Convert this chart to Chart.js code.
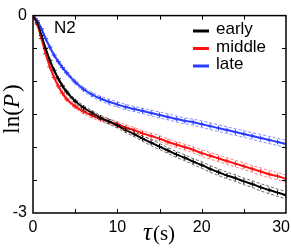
<!DOCTYPE html>
<html><head><meta charset="utf-8">
<script src="https://cdn.jsdelivr.net/npm/chart.js@4.4.1/dist/chart.umd.min.js"></script>
<style>html,body{margin:0;padding:0;background:#fff}canvas{display:block}</style>
</head><body>
<canvas id="c" width="291" height="251"></canvas>
<script>
// tau (s)
const tau = [0,0.5,1,1.5,2,2.5,3,3.5,4,5,6,7,8,9,10,11,12,13,14,15,16,17,18,19,20,21,22,23,24,25,26,27,28,29,30];
// ln(P) for each group
const early  = [0,-0.11,-0.30,-0.50,-0.68,-0.83,-0.96,-1.07,-1.16,-1.30,-1.40,-1.48,-1.55,-1.61,-1.67,-1.74,-1.80,-1.87,-1.93,-1.99,-2.05,-2.11,-2.16,-2.22,-2.27,-2.33,-2.38,-2.43,-2.47,-2.52,-2.56,-2.61,-2.65,-2.69,-2.73];
const middle = [0,-0.13,-0.35,-0.58,-0.78,-0.94,-1.07,-1.18,-1.27,-1.38,-1.46,-1.52,-1.57,-1.61,-1.65,-1.70,-1.74,-1.79,-1.83,-1.87,-1.92,-1.96,-2.00,-2.04,-2.09,-2.13,-2.17,-2.21,-2.25,-2.29,-2.33,-2.37,-2.41,-2.44,-2.48];
const late   = [0,-0.08,-0.20,-0.35,-0.48,-0.60,-0.70,-0.79,-0.87,-1.01,-1.12,-1.20,-1.26,-1.31,-1.35,-1.39,-1.42,-1.45,-1.48,-1.51,-1.54,-1.57,-1.60,-1.62,-1.65,-1.68,-1.71,-1.74,-1.77,-1.80,-1.83,-1.86,-1.89,-1.92,-1.95];
// confidence band half-width
const band   = [0,0.01,0.01,0.015,0.02,0.02,0.025,0.025,0.03,0.03,0.035,0.035,0.035,0.04,0.04,0.04,0.04,0.04,0.045,0.045,0.045,0.045,0.045,0.045,0.05,0.05,0.05,0.05,0.05,0.05,0.05,0.055,0.055,0.055,0.055];
const seriesNames = ['early','middle','late'];
const seriesColors = ['#000000','#ff1010','#2a3cff'];
const seriesBandColors = ['rgba(0,0,0,0.75)','rgba(255,40,40,0.75)','rgba(50,70,255,0.75)'];
const xTickLabels = ['0','10','20','30'];
const yTickLabels = ['0','-3'];
const panelLabel = 'N2';
const xTitle = ['\u03C4','(s)'];
const yTitle = 'ln(P)';

const seriesValues = [early, middle, late];
const datasets = [];
seriesValues.forEach((vals, i) => {
  [-1, 1].forEach(sgn => {
    datasets.push({
      label: seriesNames[i] + (sgn < 0 ? ' lower' : ' upper'),
      data: tau.map((t, k) => ({x: t, y: vals[k] + sgn * band[k]})),
      borderColor: seriesBandColors[i], borderWidth: 0.8, borderDash: [3, 2],
      pointRadius: 0, fill: false, cubicInterpolationMode: 'monotone', isBand: true
    });
  });
});
seriesValues.forEach((vals, i) => {
  datasets.push({
    label: seriesNames[i],
    data: tau.map((t, k) => ({x: t, y: vals[k]})),
    borderColor: seriesColors[i], backgroundColor: seriesColors[i], borderWidth: 2,
    pointStyle: 'cross', pointRadius: 2.5, pointBorderWidth: 1, pointBorderColor: seriesColors[i],
    fill: false, cubicInterpolationMode: 'monotone'
  });
});

const decor = {
  id: 'decor',
  afterDraw(chart) {
    const ctx = chart.ctx, a = chart.chartArea;
    const xs = chart.scales.x, ys = chart.scales.y;
    ctx.save();
    // frame
    ctx.strokeStyle = '#000'; ctx.lineWidth = 1.5;
    ctx.strokeRect(a.left, a.top, a.right - a.left, a.bottom - a.top);
    // inward ticks
    ctx.lineWidth = 1;
    ctx.beginPath();
    for (let v = 5; v < 30; v += 5) {
      const px = Math.round(xs.getPixelForValue(v)) + 0.5;
      ctx.moveTo(px, a.bottom); ctx.lineTo(px, a.bottom - 4);
      ctx.moveTo(px, a.top); ctx.lineTo(px, a.top + 4);
    }
    for (let v = -2.5; v < 0; v += 0.5) {
      const py = Math.round(ys.getPixelForValue(v)) + 0.5;
      ctx.moveTo(a.left, py); ctx.lineTo(a.left + 4, py);
      ctx.moveTo(a.right, py); ctx.lineTo(a.right - 4, py);
    }
    ctx.stroke();
    // x tick labels
    ctx.fillStyle = '#000';
    ctx.font = '16px "Liberation Sans", Arial, sans-serif';
    ctx.textBaseline = 'alphabetic'; ctx.textAlign = 'center';
    xTickLabels.forEach(l => {
      let px = xs.getPixelForValue(Number(l));
      const w = ctx.measureText(l).width;
      px = Math.min(px, chart.width - 1 - w / 2);
      ctx.fillText(l, px, 232);
    });
    // x title
    ctx.font = 'italic 25px "Liberation Serif", "DejaVu Serif", serif';
    ctx.textAlign = 'left';
    ctx.fillText(xTitle[0], 143, 240);
    const w0 = ctx.measureText(xTitle[0]).width;
    ctx.font = '21px "Liberation Serif", "DejaVu Serif", serif';
    ctx.fillText(xTitle[1], 143 + w0 + 1, 240);
    // y title
    ctx.save();
    ctx.translate(19, 109); ctx.rotate(-Math.PI / 2);
    ctx.textAlign = 'center';
    ctx.font = '23px "Liberation Serif", "DejaVu Serif", serif';
    const parts = ['ln(', 'P', ')'];
    const fonts = ['23px "Liberation Serif", serif', 'italic 23px "Liberation Serif", serif', '23px "Liberation Serif", serif'];
    let widths = parts.map((p, k) => { ctx.font = fonts[k]; return ctx.measureText(p).width; });
    let total = widths.reduce((s, v) => s + v, 0) + 2;
    let x = -total / 2;
    ctx.textAlign = 'left';
    parts.forEach((p, k) => { ctx.font = fonts[k]; ctx.fillText(p, x, 0); x += widths[k] + (k === 1 ? 2 : 0); });
    ctx.restore();
    // panel label
    ctx.font = '17px "Liberation Sans", Arial, sans-serif';
    ctx.textAlign = 'left';
    ctx.fillText(panelLabel, 54, 33);
    // legend
    const mains = chart.data.datasets.filter(d => !d.isBand);
    mains.forEach((d, i) => {
      const ly = 31 + i * 17.5;
      ctx.strokeStyle = d.borderColor; ctx.lineWidth = 3;
      ctx.beginPath(); ctx.moveTo(193, ly); ctx.lineTo(209, ly); ctx.stroke();
      ctx.fillStyle = '#000';
      ctx.font = '17px "Liberation Sans", Arial, sans-serif';
      ctx.fillText(d.label, 216, ly + 3);
    });
    ctx.restore();
  }
};

new Chart(document.getElementById('c'), {
  type: 'line',
  data: { datasets },
  options: {
    animation: false, responsive: false, maintainAspectRatio: false,
    layout: { padding: { top: 13, right: 3, left: 0, bottom: 0 } },
    plugins: { legend: { display: false }, tooltip: { enabled: false } },
    scales: {
      x: {
        type: 'linear', min: 0, max: 30,
        ticks: { display: false, stepSize: 5 },
        grid: { display: false, drawTicks: false }, border: { display: false },
        afterFit: s => { s.height = 38; s.paddingLeft = 0; s.paddingRight = 0; }
      },
      y: {
        min: -3, max: 0,
        ticks: {
          stepSize: 0.5, padding: 6, color: '#000',
          font: { family: '"Liberation Sans", Arial, sans-serif', size: 16 },
          callback: v => (yTickLabels.includes(String(v)) ? String(v) : '')
        },
        grid: { display: false, drawTicks: false }, border: { display: false },
        afterFit: s => { s.width = 33; }
      }
    }
  },
  plugins: [decor]
});
</script>
</body></html>
